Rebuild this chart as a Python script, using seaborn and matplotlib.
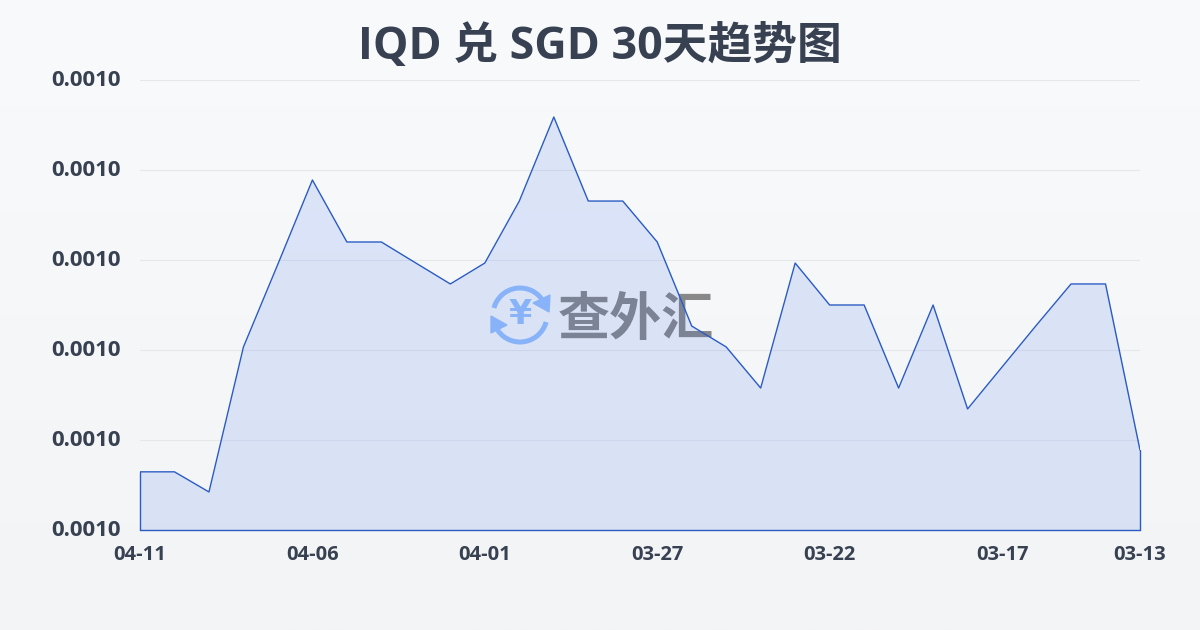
import numpy as np
import pandas as pd
import seaborn as sns
import matplotlib
matplotlib.use("Agg")
import matplotlib.pyplot as plt
from matplotlib.patches import Arc, Polygon
from matplotlib.transforms import ScaledTranslation

dates = ["04-11","04-10","04-09","04-08","04-07","04-06","04-05","04-04","04-03","04-02",
         "04-01","03-31","03-30","03-29","03-28","03-27","03-26","03-25","03-24","03-23",
         "03-22","03-21","03-20","03-19","03-18","03-17","03-16","03-15","03-14","03-13"]
rates = [1.00517,1.00517,1.00338,1.01627,1.02364,1.03111,1.02560,1.02560,1.02373,1.02187,
         1.02373,1.02924,1.03671,1.02924,1.02924,1.02560,1.01813,1.01627,1.01262,1.02373,
         1.02000,1.02000,1.01262,1.02000,1.01076,1.01449,1.01822,1.02187,1.02187,1.00711]
rates = [r * 1e-3 for r in rates]
tick_labels = ["04-11","04-06","04-01","03-27","03-22","03-17","03-13"]
y_ticks = [0.00100,0.001008,0.001016,0.001024,0.001032,0.00104]
title = "IQD 兑 SGD 30天趋势图"

sns.set_theme(style="white")
plt.rcParams['font.family'] = ['Open Sans', 'Noto Sans CJK SC', 'DejaVu Sans']
df = pd.DataFrame({"date": dates, "rate": rates, "i": range(len(dates))})

fig = plt.figure(figsize=(12, 6.3), dpi=100)
bg = fig.add_axes([0, 0, 1, 1], zorder=0)
bg.imshow(np.linspace(0, 1, 256).reshape(-1, 1), aspect="auto", extent=(0, 1, 0, 1),
          cmap=matplotlib.colors.LinearSegmentedColormap.from_list("bg", ["#f9fafb", "#f3f4f6"]))
bg.set_axis_off()

# watermark layer (in pixel coordinates)
wm = fig.add_axes([0, 0, 1, 1], zorder=1)
wm.set_xlim(0, 1200); wm.set_ylim(630, 0); wm.set_axis_off()
blue = "#99c0fa"
wm.add_patch(Arc((520, 315), 54, 54, theta1=195, theta2=330, lw=3.6, color=blue))
wm.add_patch(Arc((520, 315), 54, 54, theta1=15, theta2=165, lw=3.6, color=blue))
wm.add_patch(Polygon([(550, 295), (549, 312), (533, 303)], color=blue))
wm.add_patch(Polygon([(491, 316), (491, 333), (507, 325)], color=blue))
wm.text(520, 315, "¥", color=blue, fontsize=24, fontweight="bold", ha="center", va="center",
        family="DejaVu Sans")
wm.text(636, 319, "查外汇", color="#888888", fontsize=37.5, fontweight="bold", ha="center", va="center",
        family="Noto Sans CJK SC")

ax = fig.add_axes([140/1200, 1-530/630, 1000/1200, 450/630], zorder=2)
ax.patch.set_alpha(0)
ax.fill_between(df["i"], df["rate"], y_ticks[0], color="#2563eb", alpha=0.13, lw=0, zorder=3)
sns.lineplot(data=df, x="i", y="rate", ax=ax, color="#2a5bc4", lw=1.0, zorder=4, legend=False)
for xs, ys in [([0, 0], [y_ticks[0], rates[0]]), ([29, 29], [y_ticks[0], rates[-1]]),
               ([0, 29], [y_ticks[0], y_ticks[0]])]:
    ax.plot(xs, ys, color="#2a5bc4", lw=1.0, zorder=4, clip_on=False)

ax.set_xlim(0, 29)
ax.set_ylim(y_ticks[0], y_ticks[-1])
ax.set_xticks([dates.index(t) for t in tick_labels], tick_labels)
ax.set_yticks(y_ticks, [f"{v:.4f}" for v in y_ticks])
ax.set_xlabel(""); ax.set_ylabel("")
ax.grid(axis="y", color="#e5e7eb", lw=0.8, zorder=0)
ax.grid(axis="x", visible=False)
for s in ax.spines.values():
    s.set_visible(False)
ax.tick_params(axis="x", length=6, width=0.8, color="#e5e7eb", pad=4.5, labelsize=14.5, labelcolor="#374151")
ax.tick_params(axis="y", length=0, pad=13.5, labelsize=16, labelcolor="#374151")
for lab in ax.get_xticklabels() + ax.get_yticklabels():
    lab.set_fontweight("bold")
    lab.set_clip_on(False)
shift = ScaledTranslation(0, 1.5/100, fig.dpi_scale_trans)
for lab in ax.get_yticklabels():
    lab.set_transform(lab.get_transform() + shift)

fig.text(0.5, 1-47/630, title, ha="center", va="center", fontsize=32.2, fontweight="bold", color="#374151")
fig.savefig("out.png", dpi=100)
